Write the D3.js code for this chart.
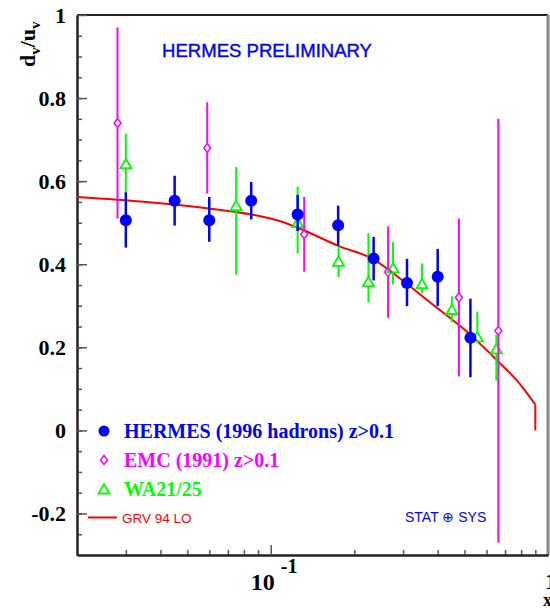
<!DOCTYPE html>
<html lang="en">
    <head>
        <meta charset="utf-8">
        <title>dv/uv HERMES preliminary</title>
        <script src="https://d3js.org/d3.v7.min.js"></script>
        <style type="text/css">
            body { margin: 0; background: white; }
            .serif { font-family: "Liberation Serif", "Times New Roman", serif; font-weight: bold; }
            .sans { font-family: "Liberation Sans", Helvetica, Arial, sans-serif; }
            .axis path { stroke: #222; stroke-width: 2; }
            .axis line { stroke: #555; stroke-width: 1.5; }
        </style>
    </head>
    <body>
        <script type="text/javascript">
        //Data

        // HERMES (1996 hadrons) z>0.1
        const hermesX     = [0.030, 0.045, 0.060, 0.085, 0.125, 0.175, 0.235, 0.310, 0.400, 0.525];
        const hermesY     = [0.506, 0.553, 0.506, 0.553, 0.520, 0.494, 0.414, 0.355, 0.370, 0.223];
        const hermesErrUp = [0.067, 0.060, 0.056, 0.045, 0.047, 0.047, 0.052, 0.058, 0.067, 0.094];
        const hermesErrDn = [0.066, 0.060, 0.052, 0.045, 0.040, 0.050, 0.053, 0.056, 0.071, 0.095];

        // EMC (1991) z>0.1
        const emcX   = [0.028, 0.059, 0.132, 0.265, 0.477, 0.662];
        const emcY   = [0.740, 0.680, 0.472, 0.381, 0.320, 0.240];
        const emcErr = [0.230, 0.110, 0.090, 0.110, 0.190, 0.510];

        // WA21/25
        const waX     = [0.030, 0.075, 0.125, 0.1755, 0.225, 0.276, 0.351, 0.450, 0.556, 0.651];
        const waY     = [0.642, 0.541, 0.500, 0.407, 0.358, 0.391, 0.353, 0.291, 0.225, 0.196];
        const waErrUp = [0.072, 0.093, 0.087, 0.040, 0.117, 0.062, 0.049, 0.032, 0.061, 0.034];
        const waErrDn = [0.072, 0.166, 0.074, 0.038, 0.050, 0.040, 0.022, 0.031, 0.014, 0.076];

        // GRV 94 LO (the last two points are the drop at the end of the curve)
        const grvX = [0.020, 0.0356, 0.0618, 0.091, 0.1075, 0.127, 0.177, 0.233, 0.291, 0.384, 0.507, 0.670, 0.768, 0.900, 0.900];
        const grvY = [0.562, 0.550, 0.533, 0.516, 0.504, 0.486, 0.443, 0.413, 0.367, 0.303, 0.239, 0.162, 0.122, 0.062, 0.000];

        // tick labels
        const yMajorTicks = [-0.2, 0, 0.2, 0.4, 0.6, 0.8, 1];
        const yMinorTicks = d3.range(-25, 100, 5).map(d => d / 100);
        const xMinorTicks = [0.03, 0.04, 0.05, 0.06, 0.07, 0.08, 0.09, 0.2, 0.3, 0.4, 0.5, 0.6, 0.7, 0.8, 0.9];

        const legendLabels = ["HERMES (1996 hadrons) z>0.1", "EMC (1991) z>0.1", "WA21/25", "GRV 94 LO"];
        const colors = { hermes: "#0000ff", emc: "#ff00ff", wa: "#00ff00", grv: "#ff0000" };

        //Constants
        const w = 550;
        const h = 608;
        const pLeft = 77, pRight = 548, pTop = 15, pBottom = 555;

        //Scales
        const xScale = d3.scaleLog()
                        .domain([0.02, 1])
                        .range([pLeft, pRight]);

        const yScale = d3.scaleLinear()
                        .domain([-0.3, 1])
                        .range([pBottom, pTop]);

        //SVG
        const svg = d3.select("body")
                      .append("svg")
                      .attr("width", w)
                      .attr("height", h);

        //Frame (top + right)
        svg.append("line")
           .attr("x1", pLeft).attr("x2", pRight)
           .attr("y1", pTop).attr("y2", pTop)
           .attr("stroke", "#222").attr("stroke-width", 2);
        svg.append("line")
           .attr("x1", pRight).attr("x2", pRight)
           .attr("y1", pTop).attr("y2", pBottom)
           .attr("stroke", "#888").attr("stroke-width", 3);

        //Axes
        svg.append("g")
           .attr("class", "axis")
           .attr("transform", "translate(" + pLeft + ",0)")
           .call(d3.axisLeft(yScale).tickValues(yMinorTicks).tickSize(-5).tickSizeOuter(0).tickFormat(""));

        const yAxis = svg.append("g")
           .attr("class", "axis")
           .attr("transform", "translate(" + pLeft + ",0)")
           .call(d3.axisLeft(yScale).tickValues(yMajorTicks).tickSize(-10).tickSizeOuter(0)
                   .tickPadding(11).tickFormat(d => String(d)));
        yAxis.selectAll("text")
             .attr("class", "serif")
             .attr("font-size", "22px")
             .attr("fill", "black");

        svg.append("g")
           .attr("class", "axis")
           .attr("transform", "translate(0," + pBottom + ")")
           .call(d3.axisBottom(xScale).tickValues(xMinorTicks).tickSize(-5).tickSizeOuter(0).tickFormat(""));

        svg.append("g")
           .attr("class", "axis")
           .attr("transform", "translate(0," + pBottom + ")")
           .call(d3.axisBottom(xScale).tickValues([0.1]).tickSize(-10).tickSizeOuter(0).tickFormat(""));

        //x tick labels
        const lab = svg.append("text")
           .attr("class", "serif")
           .attr("x", xScale(0.1) - 20)
           .attr("y", 590)
           .attr("font-size", "24px");
        lab.append("tspan").text("10");
        lab.append("tspan").attr("dx", 6).attr("dy", -17).attr("font-size", "20px").text("-1");

        svg.append("text")
           .attr("class", "serif")
           .attr("x", xScale(1) - 3)
           .attr("y", 589)
           .attr("font-size", "24px")
           .text("1");

        svg.append("text")
           .attr("class", "serif")
           .attr("x", 543)
           .attr("y", 606)
           .attr("font-size", "18px")
           .text("x");

        //y title
        const yt = svg.append("text")
           .attr("class", "serif")
           .attr("font-size", "22px")
           .attr("transform", "translate(35,67) rotate(-90)");
        yt.append("tspan").text("d");
        yt.append("tspan").attr("font-size", "15px").attr("dy", 5).text("v");
        yt.append("tspan").attr("dy", -5).text("/u");
        yt.append("tspan").attr("font-size", "15px").attr("dy", 5).text("v");

        //Title
        svg.append("text")
           .attr("class", "sans")
           .attr("x", 162)
           .attr("y", 57)
           .attr("font-size", "19px")
           .attr("textLength", 210)
           .attr("lengthAdjust", "spacingAndGlyphs")
           .attr("fill", colors.hermes)
           .attr("stroke", colors.hermes)
           .attr("stroke-width", 0.4)
           .text("HERMES PRELIMINARY");

        svg.append("text")
           .attr("class", "sans")
           .attr("x", 405)
           .attr("y", 522)
           .attr("font-size", "14px")
           .attr("fill", colors.hermes)
           .text("STAT \u2295 SYS");

        //Curve
        const grv = grvX.map((x, i) => ({ x: x, y: grvY[i] }));
        svg.append("path")
           .datum(grv.slice(0, grv.length - 1))
           .attr("fill", "none")
           .attr("stroke", colors.grv)
           .attr("stroke-width", 2)
           .attr("d", d3.line().curve(d3.curveMonotoneX).x(d => xScale(d.x)).y(d => yScale(d.y)));
        svg.append("path")
           .datum(grv.slice(grv.length - 2))
           .attr("fill", "none")
           .attr("stroke", colors.grv)
           .attr("stroke-width", 2)
           .attr("d", d3.line().x(d => xScale(d.x)).y(d => yScale(d.y)));

        //markers
        const diamond = (cx, cy) => "M" + cx + "," + (cy - 4.5) + "L" + (cx + 3.5) + "," + cy +
                                    "L" + cx + "," + (cy + 4.5) + "L" + (cx - 3.5) + "," + cy + "Z";
        const triangle = (cx, cy) => "M" + cx + "," + (cy - 5) + "L" + (cx + 5.5) + "," + (cy + 4.5) +
                                     "L" + (cx - 5.5) + "," + (cy + 4.5) + "Z";

        function errBars(xs, ys, up, dn, color, gapTop, gapBot, width) {
            const d = xs.map((x, i) => ({ x: x, y: ys[i], up: up[i], dn: dn[i] }));
            const g = svg.append("g");
            g.selectAll(".eu").data(d).enter().append("line")
             .attr("x1", p => xScale(p.x)).attr("x2", p => xScale(p.x))
             .attr("y1", p => yScale(p.y + p.up))
             .attr("y2", p => Math.max(yScale(p.y + p.up), yScale(p.y) - gapTop))
             .attr("stroke", color).attr("stroke-width", width);
            g.selectAll(".ed").data(d).enter().append("line")
             .attr("x1", p => xScale(p.x)).attr("x2", p => xScale(p.x))
             .attr("y1", p => Math.min(yScale(p.y - p.dn), yScale(p.y) + gapBot))
             .attr("y2", p => yScale(p.y - p.dn))
             .attr("stroke", color).attr("stroke-width", width);
            return d;
        }

        //WA21/25
        const waData = errBars(waX, waY, waErrUp, waErrDn, colors.wa, 5, 4.5, 2);
        svg.selectAll(".wa").data(waData).enter().append("path")
           .attr("d", p => triangle(xScale(p.x), yScale(p.y)))
           .attr("fill", "none").attr("stroke", colors.wa).attr("stroke-width", 1.8);

        //EMC
        const emcData = errBars(emcX, emcY, emcErr, emcErr, colors.emc, 4.5, 4.5, 2);
        svg.selectAll(".emc").data(emcData).enter().append("path")
           .attr("d", p => diamond(xScale(p.x), yScale(p.y)))
           .attr("fill", "none").attr("stroke", colors.emc).attr("stroke-width", 1.5);

        //HERMES
        const hermesData = errBars(hermesX, hermesY, hermesErrUp, hermesErrDn, colors.hermes, 0, 0, 2.5);
        svg.selectAll(".hermes").data(hermesData).enter().append("circle")
           .attr("cx", p => xScale(p.x)).attr("cy", p => yScale(p.y))
           .attr("r", 6).attr("fill", colors.hermes);

        //Legend
        svg.append("circle").attr("cx", 104).attr("cy", 431).attr("r", 5.5).attr("fill", colors.hermes);
        svg.append("path").attr("d", diamond(104, 460)).attr("fill", "none")
           .attr("stroke", colors.emc).attr("stroke-width", 1.5);
        svg.append("path").attr("d", triangle(104, 489)).attr("fill", "none")
           .attr("stroke", colors.wa).attr("stroke-width", 1.8);
        svg.append("line").attr("x1", 88).attr("x2", 117).attr("y1", 517.5).attr("y2", 517.5)
           .attr("stroke", colors.grv).attr("stroke-width", 2);

        const legendColors = [colors.hermes, colors.emc, colors.wa];
        const legendY = [438, 467, 496];
        legendLabels.slice(0, 3).forEach((t, i) => {
            svg.append("text")
               .attr("class", "serif")
               .attr("x", 124)
               .attr("y", legendY[i])
               .attr("font-size", "20px")
               .attr("fill", legendColors[i])
               .text(t);
        });
        svg.append("text")
           .attr("class", "sans")
           .attr("x", 122)
           .attr("y", 523)
           .attr("font-size", "13.5px")
           .attr("fill", colors.grv)
           .text(legendLabels[3]);
        </script>
    </body>
</html>
